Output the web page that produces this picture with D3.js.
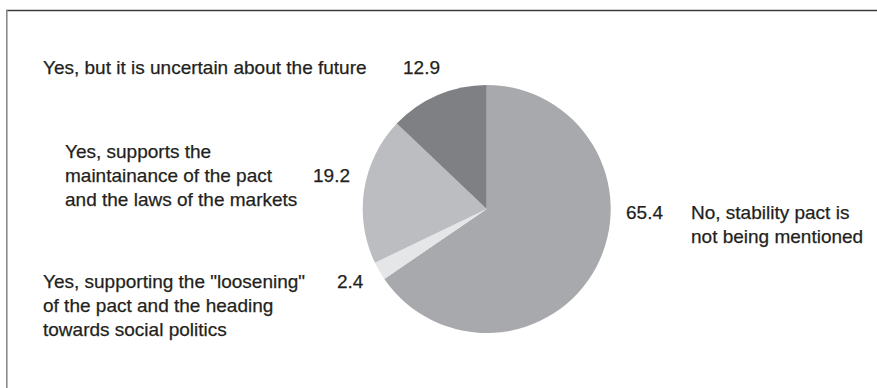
<!DOCTYPE html>
<html>
<head>
<meta charset="utf-8">
<script src="https://cdn.jsdelivr.net/npm/d3@7"></script>
<style>
  body { margin: 0; background: #fff; }
  text { font-family: "Liberation Sans", Arial, sans-serif; fill: #231f20; stroke: #231f20; stroke-width: 0.25px; }
</style>
</head>
<body>
<div id="viz"></div>
<script>
// slices, clockwise from 12 o'clock
const categories = [
  'No, stability pact is not being mentioned',
  'Yes, supporting the "loosening" of the pact and the heading towards social politics',
  'Yes, supports the maintainance of the pact and the laws of the markets',
  'Yes, but it is uncertain about the future'
]
const values = [65.4, 2.4, 19.2, 12.9]
const colors = ['#a8a9ac', '#e5e6e7', '#bcbdc0', '#7f8084']

// label text, split in lines
const labelLines = [
  ['No, stability pact is', 'not being mentioned'],
  ['Yes, supporting the "loosening"', 'of the pact and the heading', 'towards social politics'],
  ['Yes, supports the', 'maintainance of the pact', 'and the laws of the markets'],
  ['Yes, but it is uncertain about the future']
]

// where labels sit (x of text, x of value, baseline of first line)
const labelPos = [
  { tx: 691, vx: 626, y: 219 },
  { tx: 43, vx: 337, y: 288 },
  { tx: 65, vx: 313, y: 158 },
  { tx: 43, vx: 403, y: 74 }
]
const valueLine = [0, 0, 1, 0]

let width = 877,
    height = 388,
    cx = 486.7,
    cy = 209,
    radius = 124,
    lineH = 24,
    fontSize = '19px'

let svg = d3.select('#viz')
            .append('svg')
            .attr('width', width)
            .attr('height', height)

// frame (top and left edge only visible)
svg.append('line')
   .attr('x1', 6).attr('x2', width).attr('y1', 10.5).attr('y2', 10.5)
   .style('stroke', '#3c3c3c').style('stroke-width', 1.3)
svg.append('line')
   .attr('x1', 6.8).attr('x2', 6.8).attr('y1', 10).attr('y2', height)
   .style('stroke', '#8a8a8a').style('stroke-width', 1.6)

let pie = d3.pie().sort(null).value(d => d)
let arc = d3.arc().innerRadius(0).outerRadius(radius)

let g = svg.append('g').attr('transform', `translate(${cx},${cy})`)

g.selectAll('path')
 .data(pie(values))
 .enter()
   .append('path')
   .attr('d', arc)
   .style('fill', (d, i) => colors[i])

let labels = svg.selectAll('g.label')
                .data(categories)
                .enter()
                  .append('g')
                  .attr('class', 'label')

labels.append('text')
      .attr('x', (d, i) => labelPos[i].tx)
      .attr('y', (d, i) => labelPos[i].y)
      .style('font-size', fontSize)
      .selectAll('tspan')
      .data((d, i) => labelLines[i])
      .enter()
        .append('tspan')
        .attr('x', function () { return this.parentNode.getAttribute('x') })
        .attr('dy', (d, j) => j === 0 ? 0 : lineH)
        .text(d => d)

labels.append('text')
      .attr('x', (d, i) => labelPos[i].vx)
      .attr('y', (d, i) => labelPos[i].y + valueLine[i] * lineH)
      .style('font-size', fontSize)
      .text((d, i) => values[i].toFixed(1))
</script>
</body>
</html>
